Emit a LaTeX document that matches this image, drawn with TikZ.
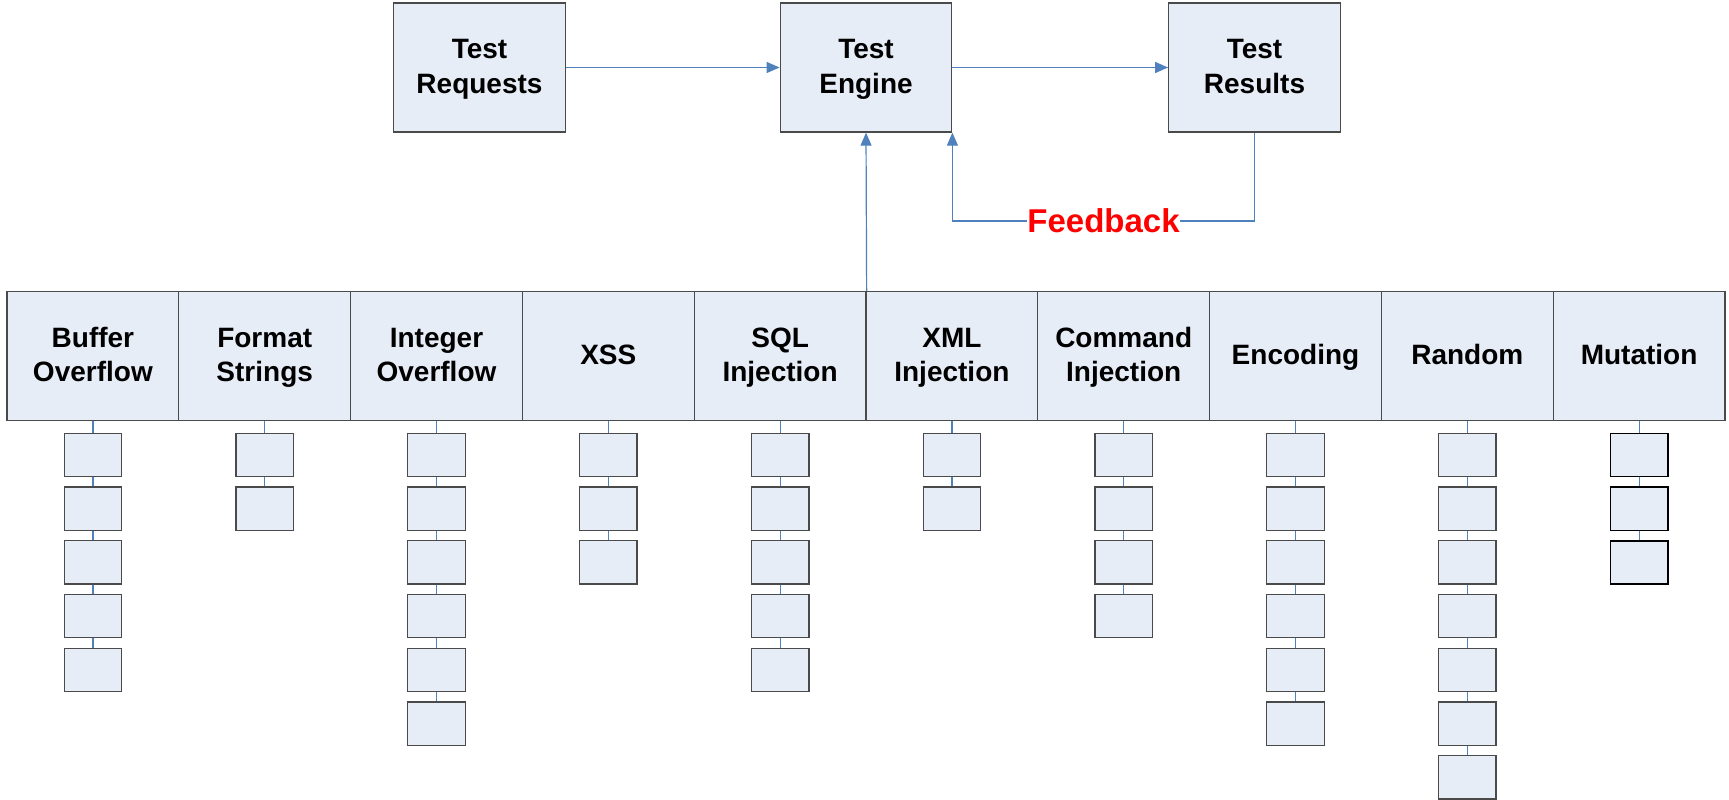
\documentclass[tikz,border=0pt]{standalone}
\usepackage{fontspec}
\setmainfont{Liberation Sans}
\usetikzlibrary{arrows.meta}
\definecolor{boxfill}{HTML}{E7EDF7}
\definecolor{boxdraw}{HTML}{4A4A4A}
\definecolor{conn}{HTML}{4F81BD}
\definecolor{fbred}{HTML}{FF0000}
\newcommand{\tl}[1]{\rule[-7.5pt]{0pt}{31.5pt}#1}
\begin{document}
\begin{tikzpicture}[x=1pt,y=-1pt,
  topbox/.style={draw=boxdraw, fill=boxfill, line width=1.3pt, minimum width=171.5pt, minimum height=129pt, inner sep=0pt, align=center, font=\fontsize{28}{34.5}\selectfont\bfseries},
  catbox/.style={draw=boxdraw, fill=boxfill, line width=1.3pt, minimum width=171.8pt, minimum height=128.5pt, inner sep=0pt, align=center, font=\fontsize{28}{34.5}\selectfont\bfseries},
  leafA/.style={draw=boxdraw, fill=boxfill, line width=1.3pt, minimum width=57.5pt, minimum height=43.3pt, inner sep=0pt},
  leafB/.style={draw=black, fill=boxfill, line width=1.5pt, minimum width=57.5pt, minimum height=43.3pt, inner sep=0pt},
  conn/.style={draw=conn, line width=1.2pt},
  arr/.style={conn, -{Triangle[length=13pt,width=11pt,fill=conn]}},
  fbtext/.style={fill=white, inner xsep=0pt, inner ysep=2pt, text=fbred, font=\fontsize{33}{36}\selectfont\bfseries}
]
\useasboundingbox (0,0) rectangle (1729,800);

% top row
\node[topbox] (requests) at (479.5,67.5) {\tl{Test}\\\tl{Requests}};
\node[topbox] (engine) at (866,67.5) {\tl{Test}\\\tl{Engine}};
\node[topbox] (results) at (1254.5,67.5) {\tl{Test}\\\tl{Results}};

\draw[arr] (requests.east) -- (engine.west);
\draw[arr] (engine.east) -- (results.west);

% categories and leaves
\foreach \nm/\lab/\n/\lf [count=\i from 0] in {
  bo/{\tl{Buffer}\\\tl{Overflow}}/5/leafA,
  fs/{\tl{Format}\\\tl{Strings}}/2/leafA,
  io/{\tl{Integer}\\\tl{Overflow}}/6/leafA,
  xss/{\tl{XSS}}/3/leafA,
  sql/{\tl{SQL}\\\tl{Injection}}/5/leafA,
  xml/{\tl{XML}\\\tl{Injection}}/2/leafA,
  cmd/{\tl{Command}\\\tl{Injection}}/4/leafA,
  enc/{\tl{Encoding}}/6/leafA,
  rnd/{\tl{Random}}/7/leafA,
  mut/{\tl{Mutation}}/3/leafB} {
  \node[catbox] (\nm) at ({7+171.8*(\i+0.5)},356) {\lab};
  \foreach \k in {1,...,\n} {
    \node[\lf] (\nm\k) at ({7+171.8*(\i+0.5)},{455+(\k-1)*53.7}) {};
  }
  \draw[conn] (\nm.south) -- (\nm1.north);
  \foreach \k [evaluate=\k as \p using int(\k-1)] in {2,...,\n} {
    \draw[conn] (\nm\p.south) -- (\nm\k.north);
  }
}

% categories to engine
\draw[arr] (sql.north east) -- (engine.south);

% feedback loop
\coordinate (fbrow) at (0,221);
\draw[arr] (results.south) -- (results.south |- fbrow) -- (engine.south east |- fbrow) -- (engine.south east);
\node[fbtext] (feedback) at (1103.5,221) {Feedback};
\end{tikzpicture}
\end{document}
